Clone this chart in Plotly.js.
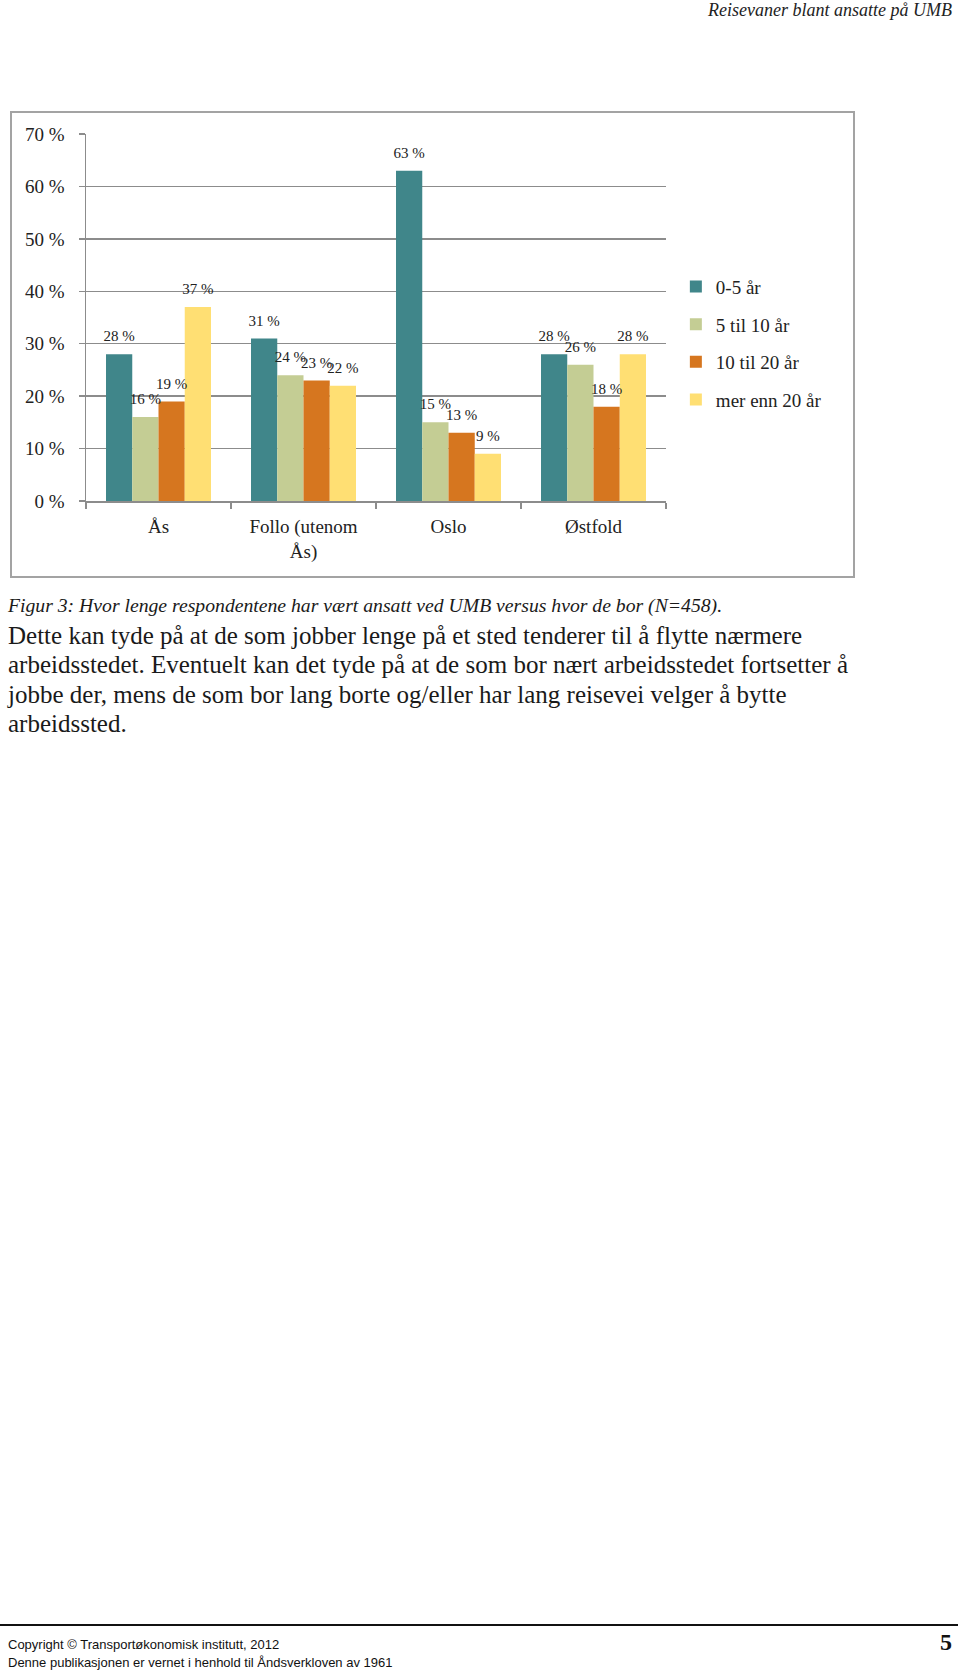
<!DOCTYPE html>
<html>
<head>
<meta charset="utf-8">
<script src="https://cdn.plot.ly/plotly-3.0.1.min.js"></script>
<style>
  html, body { margin:0; padding:0; background:#fff; }
  #page { position:relative; width:960px; height:1672px; overflow:hidden; background:#fff; font-family:"Liberation Serif", serif; color:#1a1a1a; }
  .abs { position:absolute; white-space:nowrap; }
  #header { right:8px; top:0px; font-style:italic; font-size:18px; line-height:20px; color:#222; }
  #frame { left:10px; top:111px; width:841px; height:463px; border:2px solid #a3a3a3; }
  #chart { position:absolute; left:0; top:0; width:960px; height:600px; }
  #caption { left:8px; top:594px; font-style:italic; font-size:19.7px; line-height:22px; }
  #para { left:8px; top:621px; font-size:25px; line-height:29.3px; }
  #rule { left:0; top:1624px; width:958px; height:2px; background:#111; }
  #foot { left:8px; top:1636px; font-family:"Liberation Sans Narrow","Liberation Sans",sans-serif; font-size:13px; line-height:18px; color:#111; }
  #pnum { right:8px; top:1628px; font-size:24px; font-weight:bold; line-height:28px; color:#111; }
</style>
</head>
<body>
<div id="page">
  <div id="header" class="abs">Reisevaner blant ansatte på UMB</div>
  <div id="frame" class="abs"></div>
  <div id="chart"></div>
  <div id="caption" class="abs">Figur 3: Hvor lenge respondentene har vært ansatt ved UMB versus hvor de bor (N=458).</div>
  <div id="para" class="abs">Dette kan tyde på at de som jobber lenge på et sted tenderer til å flytte nærmere<br>arbeidsstedet. Eventuelt kan det tyde på at de som bor nært arbeidsstedet fortsetter å<br>jobbe der, mens de som bor lang borte og/eller har lang reisevei velger å bytte<br>arbeidssted.</div>
  <div id="rule" class="abs"></div>
  <div id="foot" class="abs">Copyright © Transportøkonomisk institutt, 2012<br>Denne publikasjonen er vernet i henhold til Åndsverkloven av 1961</div>
  <div id="pnum" class="abs">5</div>
</div>
<script>
const categories = ["Ås", "Follo (utenom<br>Ås)", "Oslo", "Østfold"];
const seriesNames = ["0-5 år", "5 til 10 år", "10 til 20 år", "mer enn 20 år"];
const years0to5 = [28, 31, 63, 28];
const years5to10 = [16, 24, 15, 26];
const years10to20 = [19, 23, 13, 18];
const yearsOver20 = [37, 22, 9, 28];
const seriesColors = ["#40868A", "#C4CD94", "#D6761F", "#FFDF73"];
const yTickVals = [0, 10, 20, 30, 40, 50, 60, 70];
const yTickText = ["0 %", "10 %", "20 %", "30 %", "40 %", "50 %", "60 %", "70 %"];

const seriesValues = [years0to5, years5to10, years10to20, yearsOver20];
const barTraces = seriesValues.map((vals, i) => ({
  type: 'bar',
  name: seriesNames[i],
  x: categories,
  y: vals,
  marker: { color: seriesColors[i], line: { width: 0 } },
  legendgroup: 'g' + i,
  hoverinfo: 'none'
}));
const labelTraces = seriesValues.map((vals, i) => ({
  type: 'scatter',
  mode: 'markers+text',
  x: categories,
  y: vals,
  text: vals.map(v => v + ' %'),
  textposition: 'top center',
  textfont: { family: 'Liberation Serif, serif', size: 15, color: '#222' },
  marker: { size: 13, color: 'rgba(0,0,0,0)' },
  cliponaxis: false,
  showlegend: false,
  hoverinfo: 'none'
}));

const layout = {
  width: 960, height: 600,
  margin: { l: 86, r: 294, t: 134, b: 99, pad: 0 },
  paper_bgcolor: 'rgba(0,0,0,0)',
  plot_bgcolor: 'rgba(0,0,0,0)',
  barmode: 'group',
  bargap: 0.276,
  bargroupgap: 0,
  scattermode: 'group',
  scattergap: 0.276,
  font: { family: 'Liberation Serif, serif', size: 19, color: '#222' },
  showlegend: true,
  legend: {
    x: 1.017, xanchor: 'left', y: 0.636, yanchor: 'top',
    font: { family: 'Liberation Serif, serif', size: 19, color: '#222' },
    tracegroupgap: 10, bgcolor: 'rgba(0,0,0,0)'
  },
  xaxis: {
    type: 'category',
    showgrid: false,
    showline: true, linecolor: '#8c8c8c', linewidth: 1.5,
    ticks: 'outside', tickson: 'boundaries', ticklen: 6, tickcolor: '#8c8c8c', tickwidth: 1.5,
    ticklabelstandoff: 8,
    tickfont: { family: 'Liberation Serif, serif', size: 19, color: '#222' },
    fixedrange: true
  },
  yaxis: {
    range: [0, 70],
    tickvals: yTickVals, ticktext: yTickText,
    showgrid: true, gridcolor: '#8c8c8c', gridwidth: 1.5,
    showline: true, linecolor: '#8c8c8c', linewidth: 1.5,
    zeroline: false,
    ticks: 'outside', ticklen: 6, tickcolor: '#8c8c8c', tickwidth: 1.5,
    ticklabelstandoff: 10,
    tickfont: { family: 'Liberation Serif, serif', size: 19, color: '#222' },
    fixedrange: true
  }
};

Plotly.newPlot('chart', barTraces.concat(labelTraces), layout, { staticPlot: true, displayModeBar: false });
</script>
</body>
</html>
